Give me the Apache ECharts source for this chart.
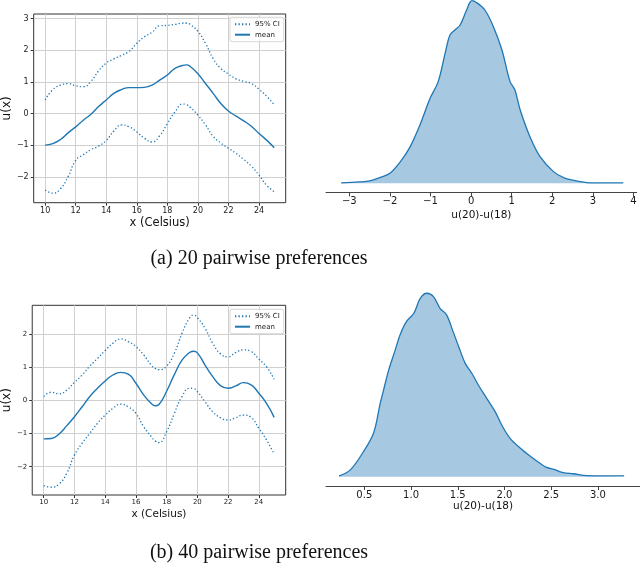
<!DOCTYPE html>
<html>
<head>
<meta charset="utf-8">
<script src="https://cdn.jsdelivr.net/npm/echarts@6/dist/echarts.min.js"></script>
<style>
html,body{margin:0;padding:0;background:#fff;}
#c{width:640px;height:563px;}
</style>
</head>
<body>
<div id="c"></div>
<script>
// ---------- data ----------
const xA = [10,10.5,11,11.5,12,12.5,13,13.5,14,14.5,15,15.5,16,16.5,17,17.5,18,18.5,19,19.25,19.5,20,20.5,21,21.5,22,22.5,23,23.5,24,24.5,25];
const meanA = [-1.00,-0.95,-0.82,-0.61,-0.42,-0.21,-0.02,0.22,0.43,0.64,0.76,0.82,0.82,0.83,0.90,1.06,1.22,1.43,1.52,1.54,1.49,1.26,0.95,0.64,0.32,0.08,-0.08,-0.23,-0.40,-0.63,-0.84,-1.08];
const upA = [0.43,0.76,0.90,0.95,0.88,0.85,1.02,1.35,1.60,1.73,1.84,1.97,2.22,2.43,2.57,2.78,2.79,2.82,2.86,2.86,2.82,2.60,2.22,1.74,1.43,1.25,1.10,1.02,0.95,0.77,0.55,0.27];
const loA = [-2.42,-2.52,-2.38,-2.00,-1.48,-1.30,-1.14,-1.03,-0.85,-0.55,-0.36,-0.42,-0.58,-0.78,-0.90,-0.70,-0.32,0.05,0.30,0.28,0.20,-0.05,-0.36,-0.72,-0.93,-1.10,-1.26,-1.45,-1.66,-1.95,-2.27,-2.47];

const xB = [10,10.5,11,11.5,12,12.5,13,13.5,14,14.5,15,15.5,16,16.5,17,17.25,17.5,18,18.5,19,19.5,19.75,20,20.5,21,21.5,22,22.5,23,23.5,24,24.5,25];
const meanB = [-1.16,-1.15,-1.01,-0.76,-0.49,-0.19,0.12,0.37,0.59,0.77,0.85,0.80,0.52,0.17,-0.09,-0.16,-0.12,0.28,0.78,1.22,1.45,1.49,1.44,1.07,0.72,0.45,0.37,0.44,0.54,0.47,0.22,-0.09,-0.51];
const upB = [0.12,0.25,0.20,0.32,0.55,0.77,1.04,1.27,1.51,1.73,1.86,1.78,1.63,1.38,1.07,0.97,0.93,1.04,1.43,2.03,2.50,2.58,2.50,2.18,1.73,1.41,1.32,1.45,1.53,1.48,1.25,1.02,0.64];
const loB = [-2.57,-2.62,-2.52,-2.20,-1.65,-1.29,-0.99,-0.69,-0.44,-0.24,-0.11,-0.19,-0.39,-0.79,-1.09,-1.22,-1.27,-0.94,-0.39,0.12,0.37,0.36,0.27,-0.04,-0.34,-0.52,-0.59,-0.52,-0.44,-0.51,-0.84,-1.19,-1.62];

const kdeAx = [-3.20,-2.75,-2.50,-2.25,-2.00,-1.71,-1.50,-1.26,-1.01,-0.81,-0.64,-0.52,-0.40,-0.27,-0.11,0.02,0.14,0.34,0.55,0.76,0.96,1.08,1.21,1.45,1.70,2.03,2.28,2.60,3.02,3.75];
const kdeAy = [0.001,0.004,0.007,0.017,0.030,0.070,0.110,0.175,0.255,0.305,0.390,0.445,0.460,0.475,0.520,0.548,0.542,0.520,0.470,0.400,0.305,0.280,0.220,0.140,0.080,0.035,0.017,0.007,0.001,0.001];

const kdeBx = [0.23,0.35,0.49,0.60,0.67,0.70,0.76,0.83,0.88,0.95,1.03,1.10,1.17,1.24,1.31,1.38,1.45,1.51,1.58,1.65,1.72,1.81,1.90,1.97,2.06,2.17,2.28,2.38,2.45,2.53,2.63,2.74,2.88,3.28];
const kdeBy = [0.004,0.037,0.136,0.240,0.400,0.460,0.580,0.690,0.770,0.845,0.891,0.973,1.000,0.982,0.918,0.882,0.791,0.709,0.618,0.564,0.500,0.427,0.355,0.282,0.209,0.155,0.110,0.073,0.051,0.040,0.022,0.016,0.006,0.004];

const ticksX = [10,12,14,16,18,20,22,24];
const ticksYA = [-2,-1,0,1,2,3];
const ticksYB = [-2,-1,0,1,2];
const ticksKA = [-3,-2,-1,0,1,2,3,4];
const ticksKB = [0.5,1.0,1.5,2.0,2.5,3.0];

const legendNames = ['95% CI','mean'];
const captionA = '(a) 20 pairwise preferences';
const captionB = '(b) 40 pairwise preferences';

// ---------- helpers ----------
const FONT = 'DejaVu Sans';
const C0 = '#1f77b4';
const FILL = '#a6c8e1';
const fmtInt = v => (v < 0 ? '\u2212' : '') + Math.abs(v);
const fmtOne = v => Number(v).toFixed(1);
const pairs = (xs, ys) => xs.map((x, i) => [x, ys[i]]);

function leftX(gi, fs, nfs) {
  return {
    type: 'value', gridIndex: gi, min: 9.25, max: 25.75,
    name: 'x (Celsius)', nameLocation: 'middle', nameGap: 14,
    nameTextStyle: {fontFamily: FONT, fontSize: nfs, color: '#111'},
    axisLine: {show: false, onZero: false},
    axisTick: {show: true, length: 3, customValues: ticksX, lineStyle: {color: '#333'}},
    axisLabel: {customValues: ticksX, fontFamily: FONT, fontSize: fs, color: '#222', margin: 4, formatter: fmtInt},
    splitLine: {show: true, lineStyle: {color: '#d0d0d0', width: 1}}
  };
}
function leftY(gi, mn, mx, ticks, fs) {
  return {
    type: 'value', gridIndex: gi, min: mn, max: mx,
    name: 'u(x)', nameLocation: 'middle', nameGap: 19,
    nameTextStyle: {fontFamily: FONT, fontSize: 12, color: '#111'},
    axisLine: {show: false, onZero: false},
    axisTick: {show: true, length: 3, customValues: ticks, lineStyle: {color: '#333'}},
    axisLabel: {customValues: ticks, fontFamily: FONT, fontSize: fs, color: '#222', margin: 5, formatter: fmtInt},
    splitLine: {show: true, lineStyle: {color: '#d0d0d0', width: 1}}
  };
}
function rightX(gi, mn, mx, ticks, fmt, gap) {
  return {
    type: 'value', gridIndex: gi, min: mn, max: mx,
    name: 'u(20)-u(18)', nameLocation: 'middle', nameGap: gap,
    nameTextStyle: {fontFamily: FONT, fontSize: 10.5, color: '#111'},
    axisLine: {show: true, onZero: false, lineStyle: {color: '#444', width: 1}},
    axisTick: {show: true, length: 4, customValues: ticks, lineStyle: {color: '#444'}},
    axisLabel: {customValues: ticks, fontFamily: FONT, fontSize: 10, color: '#1a1a1a', margin: 4, formatter: fmt},
    splitLine: {show: false}
  };
}
function rightY(gi, mn, mx) {
  return {type: 'value', gridIndex: gi, min: mn, max: mx, show: false,
    axisLine: {onZero: false}, splitLine: {show: false}};
}
function ciSeries(gi, xs, ys) {
  return {type: 'line', name: legendNames[0], xAxisIndex: gi, yAxisIndex: gi,
    data: pairs(xs, ys), symbol: 'none', smooth: 0.5,
    lineStyle: {color: C0, width: 1.3, type: [1.3, 2.2], cap: 'butt'}, itemStyle: {color: C0}};
}
function meanSeries(gi, xs, ys) {
  return {type: 'line', name: legendNames[1], xAxisIndex: gi, yAxisIndex: gi,
    data: pairs(xs, ys), symbol: 'none', smooth: 0.5,
    lineStyle: {color: C0, width: 1.4}, itemStyle: {color: C0}};
}
function kdeSeries(gi, xs, ys) {
  return {type: 'line', name: 'kde' + gi, xAxisIndex: gi, yAxisIndex: gi,
    data: pairs(xs, ys), symbol: 'none', smooth: 0.35,
    lineStyle: {color: C0, width: 1.3},
    areaStyle: {color: FILL, opacity: 1, origin: 0}};
}
function legendAt(left, top) {
  return {
    left: left, top: top, orient: 'vertical', data: legendNames, selectedMode: false,
    itemWidth: 15, itemHeight: 7, itemGap: 2.4, padding: [3, 4, 3, 4],
    itemStyle: {opacity: 0},
    backgroundColor: 'rgba(255,255,255,0.8)', borderColor: '#cccccc', borderWidth: 0.8, borderRadius: 2,
    textStyle: {fontFamily: FONT, fontSize: 7, color: '#222', lineHeight: 8}
  };
}

const option = {
  animation: false,
  backgroundColor: '#fff',
  grid: [
    {left: 30.7, top: 14, width: 255, height: 188.7, show: true, borderColor: '#333', borderWidth: 1},
    {left: 326, top: 0, width: 310.7, height: 192.4},
    {left: 30.7, top: 305.3, width: 255, height: 189.7, show: true, borderColor: '#333', borderWidth: 1},
    {left: 326, top: 284.1, width: 314, height: 201.9}
  ],
  xAxis: [
    leftX(0, 8, 11.5),
    rightX(1, -3.574, 4.08, ticksKA, fmtInt, 17),
    leftX(2, 7, 10.5),
    rightX(3, 0.09, 3.45, ticksKB, fmtOne, 15)
  ],
  yAxis: [
    leftY(0, -2.82, 3.15, ticksYA, 8),
    rightY(1, -0.0273, 0.55),
    leftY(2, -2.855, 2.876, ticksYB, 7),
    rightY(3, -0.0507, 1.05)
  ],
  legend: [legendAt(230, 17.3), legendAt(230, 309.3)],
  series: [
    ciSeries(0, xA, upA), ciSeries(0, xA, loA), meanSeries(0, xA, meanA),
    kdeSeries(1, kdeAx, kdeAy),
    ciSeries(2, xB, upB), ciSeries(2, xB, loB), meanSeries(2, xB, meanB),
    kdeSeries(3, kdeBx, kdeBy)
  ],
  graphic: [
    {type: 'text', x: 259, y: 259, style: {text: captionA, font: '20px "Liberation Serif"', fill: '#111', align: 'center', verticalAlign: 'middle'}},
    {type: 'text', x: 259, y: 553, style: {text: captionB, font: '20px "Liberation Serif"', fill: '#111', align: 'center', verticalAlign: 'middle'}}
  ]
};

const chart = echarts.init(document.getElementById('c'), null, {renderer: 'canvas'});
chart.setOption(option);
</script>
</body>
</html>
